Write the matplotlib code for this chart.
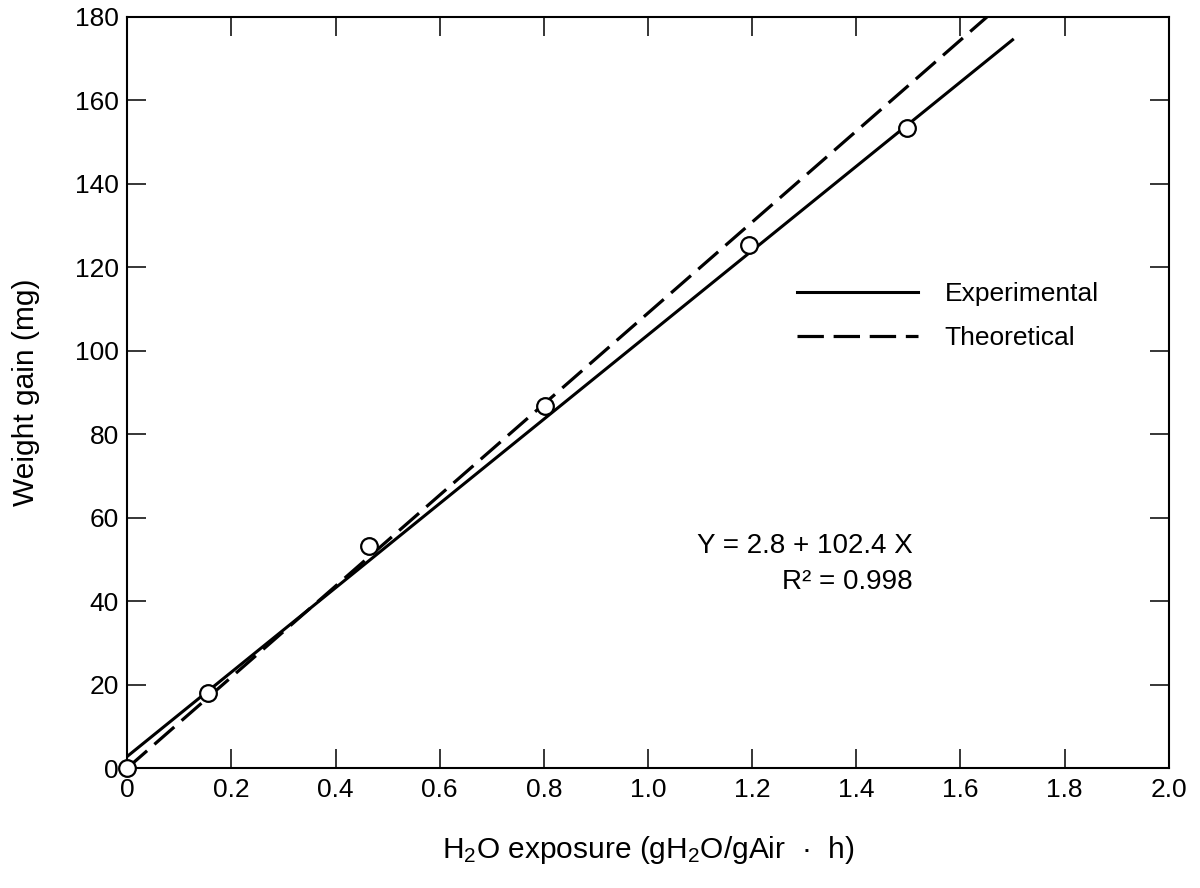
"""
Weight gain vs H2O exposure: measured points, fitted line and theoretical line.
"""

import matplotlib

matplotlib.use("Agg")
import matplotlib.pyplot as plt

exposure = [0.0, 0.155, 0.464, 0.802, 1.194, 1.497]
weight_gain = [0.0, 18.0, 53.2, 86.8, 125.4, 153.4]

# fitted (experimental) line end points
exp_x = [0.0, 1.70]
exp_y = [2.8, 174.5]

# theoretical line end points
theo_x = [0.0, 1.651]
theo_y = [0.0, 180.0]

x_ticks = [0, 0.2, 0.4, 0.6, 0.8, 1.0, 1.2, 1.4, 1.6, 1.8, 2.0]
x_tick_labels = ["0", "0.2", "0.4", "0.6", "0.8", "1.0", "1.2", "1.4", "1.6", "1.8", "2.0"]
y_ticks = list(range(0, 181, 20))

plt.rcParams["font.family"] = ["Liberation Sans", "DejaVu Sans"]
plt.rcParams["mathtext.default"] = "regular"
plt.rcParams["lines.scale_dashes"] = False

fig = plt.figure(figsize=(12, 8.88), dpi=100)
ax = fig.add_axes([0.106, 0.135, 0.868, 0.846])

ax.plot(exp_x, exp_y, color="black", linewidth=2.2, label="Experimental", zorder=2)
ax.plot(theo_x, theo_y, color="black", linewidth=2.3, dashes=(19, 7),
        label="Theoretical", zorder=2)
ax.plot(exposure, weight_gain, linestyle="none", marker="o", markersize=12,
        markerfacecolor="white", markeredgecolor="black", markeredgewidth=1.6,
        zorder=3, clip_on=False)

ax.set_xlim(0, 2.0)
ax.set_ylim(0, 180)
ax.set_xticks(x_ticks)
ax.set_xticklabels(x_tick_labels)
ax.set_yticks(y_ticks)
ax.tick_params(direction="in", top=True, right=True, length=14, width=1.1,
               labelsize=19)
ax.tick_params(axis="x", pad=7)
ax.tick_params(axis="y", pad=6)
for spine in ax.spines.values():
    spine.set_linewidth(1.5)

ax.set_ylabel("Weight gain (mg)", fontsize=21.5)
ax.set_xlabel("H$_2$O exposure (gH$_2$O/gAir  \u00b7  h)", fontsize=21.5)
ax.yaxis.set_label_coords(-0.084, 0.5)
ax.xaxis.set_label_coords(0.5, -0.088)

ax.legend(loc="upper left", bbox_to_anchor=(0.643, 0.647), frameon=False,
          fontsize=19, handlelength=4.6, handletextpad=1.0, labelspacing=0.75,
          borderpad=0, borderaxespad=0)

ax.text(0.754, 0.272, "Y = 2.8 + 102.4 X\nR\u00b2 = 0.998", transform=ax.transAxes,
        ha="right", va="center", multialignment="right", fontsize=20,
        linespacing=1.5)

fig.savefig("out.png", dpi=100)
